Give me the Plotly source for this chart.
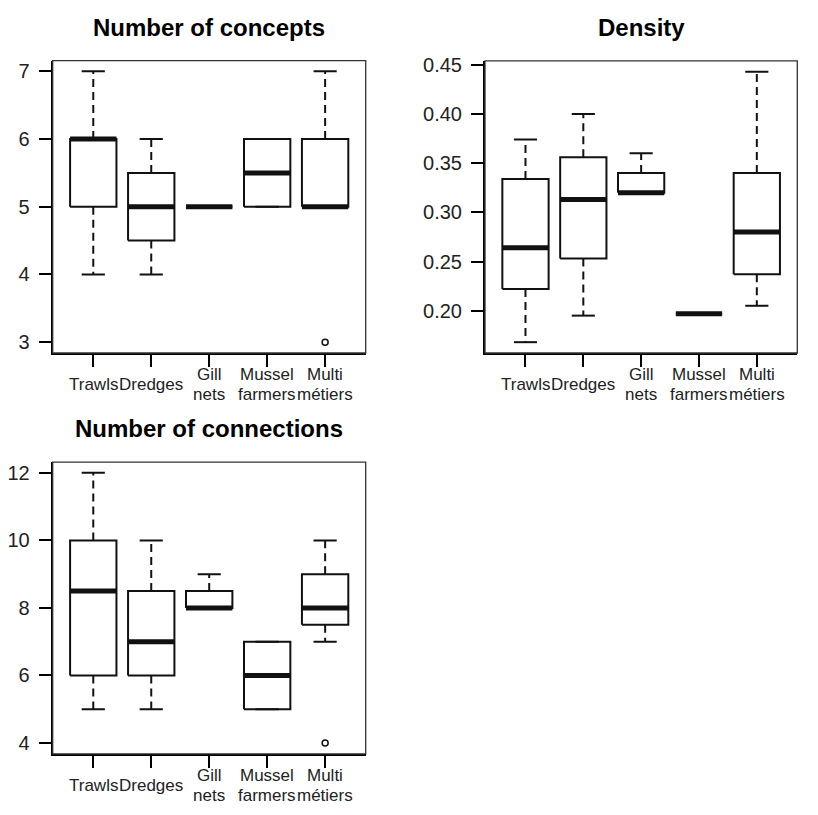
import plotly.graph_objects as go

groups = ["Trawls", "Dredges", "Gill\nnets", "Mussel\nfarmers", "Multi\nmétiers"]
positions = [1, 2, 3, 4, 5]

# Number of concepts
conc_lower = [4, 4, 5, 5, 5]
conc_q1 = [5, 4.5, 5, 5, 5]
conc_med = [6, 5, 5, 5.5, 5]
conc_q3 = [6, 5.5, 5, 6, 6]
conc_upper = [7, 6, 5, 6, 7]
conc_out_x = [5]
conc_out_y = [3]
conc_ticks = [3, 4, 5, 6, 7]

# Density
dens_lower = [0.168, 0.195, 0.320, 0.197, 0.205]
dens_q1 = [0.222, 0.253, 0.320, 0.197, 0.237]
dens_med = [0.264, 0.313, 0.320, 0.197, 0.280]
dens_q3 = [0.334, 0.356, 0.340, 0.197, 0.340]
dens_upper = [0.374, 0.400, 0.360, 0.197, 0.443]
dens_out_x = []
dens_out_y = []
dens_ticks = [0.20, 0.25, 0.30, 0.35, 0.40, 0.45]

# Number of connections
conn_lower = [5, 5, 8, 5, 7]
conn_q1 = [6, 6, 8, 5, 7.5]
conn_med = [8.5, 7, 8, 6, 8]
conn_q3 = [10, 8.5, 8.5, 7, 9]
conn_upper = [12, 10, 9, 7, 10]
conn_out_x = [5]
conn_out_y = [4]
conn_ticks = [4, 6, 8, 10, 12]

titles = ["Number of concepts", "Density", "Number of connections"]

W, H = 818, 815
# panel pixel boxes: (left, right, top, bottom)
panels_px = [(52.7, 365.7, 54, 349), (485, 797.3, 54.3, 349), (52.7, 365.7, 459, 753.3)]
title_y_px = [21, 21, 425]

FONT = "Liberation Sans, Arial, Helvetica, sans-serif"
BOXW = 0.4
CAPW = 0.2

fig = go.Figure()
layout = dict(width=W, height=H, margin=dict(l=0, r=0, t=0, b=0),
              paper_bgcolor="white", plot_bgcolor="white", showlegend=False,
              annotations=[], shapes=[])

data_sets = [
    (conc_lower, conc_q1, conc_med, conc_q3, conc_upper, conc_out_x, conc_out_y, conc_ticks, "d"),
    (dens_lower, dens_q1, dens_med, dens_q3, dens_upper, dens_out_x, dens_out_y, dens_ticks, ".2f"),
    (conn_lower, conn_q1, conn_med, conn_q3, conn_upper, conn_out_x, conn_out_y, conn_ticks, "d"),
]

for k, (lo, q1, md, q3, up, ox, oy, ticks, fmt) in enumerate(data_sets):
    sfx = "" if k == 0 else str(k + 1)
    xa, ya = "x" + sfx, "y" + sfx
    # box rectangles
    bx, by = [], []
    for p, a, b in zip(positions, q1, q3):
        bx += [p - BOXW, p + BOXW, p + BOXW, p - BOXW, p - BOXW, None]
        by += [a, a, b, b, a, None]
    fig.add_trace(go.Scatter(x=bx, y=by, mode="lines", line=dict(color="#111", width=2),
                             xaxis=xa, yaxis=ya, hoverinfo="skip"))
    # whiskers (dashed)
    wx, wy = [], []
    for p, l, a, b, u in zip(positions, lo, q1, q3, up):
        wx += [p, p, None, p, p, None]
        wy += [b, u, None, a, l, None]
    fig.add_trace(go.Scatter(x=wx, y=wy, mode="lines", line=dict(color="#111", width=2, dash="8px,5px"),
                             xaxis=xa, yaxis=ya, hoverinfo="skip"))
    # caps
    cx, cy = [], []
    for p, l, u in zip(positions, lo, up):
        cx += [p - CAPW, p + CAPW, None, p - CAPW, p + CAPW, None]
        cy += [u, u, None, l, l, None]
    fig.add_trace(go.Scatter(x=cx, y=cy, mode="lines", line=dict(color="#111", width=2),
                             xaxis=xa, yaxis=ya, hoverinfo="skip"))
    # medians
    mx, my = [], []
    for p, m in zip(positions, md):
        mx += [p - BOXW, p + BOXW, None]
        my += [m, m, None]
    fig.add_trace(go.Scatter(x=mx, y=my, mode="lines", line=dict(color="#111", width=5),
                             xaxis=xa, yaxis=ya, hoverinfo="skip"))
    # outliers
    if ox:
        fig.add_trace(go.Scatter(x=ox, y=oy, mode="markers",
                                 marker=dict(symbol="circle-open", size=6, color="#111", line=dict(width=1.5)),
                                 xaxis=xa, yaxis=ya, hoverinfo="skip"))

    allv = lo + up + oy
    vmin, vmax = min(allv), max(allv)
    pad = (vmax - vmin) * 0.04
    L, R, T, B = panels_px[k]
    xdom = [L / W, R / W]
    ydom = [1 - B / H, 1 - T / H]
    axis_common = dict(showline=True, linewidth=2, linecolor="black", mirror=False,
                       ticks="outside", ticklen=12, tickwidth=2, tickcolor="black",
                       showgrid=False, zeroline=False)
    layout["xaxis" + sfx] = dict(axis_common, domain=xdom, range=[0.3, 5.7], tickvals=positions,
                                 showticklabels=False, anchor=ya)
    layout["yaxis" + sfx] = dict(axis_common, domain=ydom, range=[vmin - pad, vmax + pad],
                                 tickvals=ticks, tickformat=fmt, anchor=xa,
                                 ticklabelstandoff=5,
                                 tickfont=dict(family=FONT, size=20, color="#222"))
    # frame
    layout["shapes"].append(dict(type="rect", xref=xa + " domain", yref=ya + " domain",
                                 x0=0, x1=1, y0=0, y1=1, line=dict(color="#333", width=1.3),
                                 layer="above"))
    # title
    layout["annotations"].append(dict(text="<b>" + titles[k] + "</b>", xref="paper", yref="paper",
                                      x=(L + R) / 2 / W, y=1 - title_y_px[k] / H,
                                      xanchor="center", yanchor="middle", showarrow=False,
                                      font=dict(family=FONT, size=24, color="black")))
    # x labels
    ph = B - T
    center_off = 32
    for p, g in zip(positions, groups):
        lines = g.split("\n")
        n = len(lines)
        for j, line in enumerate(lines):
            off = center_off + (j - (n - 1) / 2) * 20
            layout["annotations"].append(dict(text=line, xref=xa, yref=ya + " domain",
                                              x=p, y=-off / ph, xanchor="center", yanchor="middle",
                                              showarrow=False,
                                              font=dict(family=FONT, size=17, color="#222")))

fig.update_layout(**layout)
fig.write_html("out.html")
